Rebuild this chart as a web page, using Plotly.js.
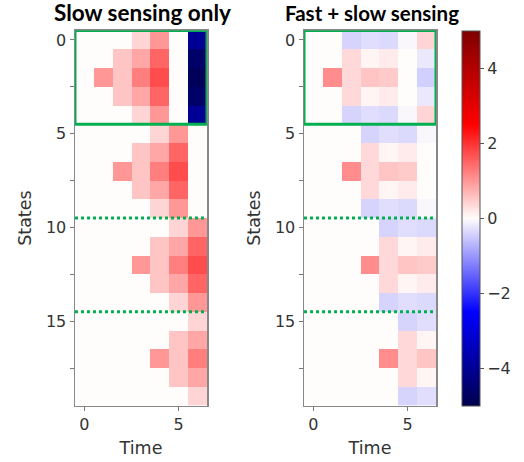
<!DOCTYPE html>
<html>
<head>
<meta charset="utf-8">
<script src="https://cdn.plot.ly/plotly-3.0.1.min.js"></script>
<style>html,body{margin:0;padding:0;background:#fff;}#chart{width:524px;height:462px;}</style>
</head>
<body>
<div id="chart"></div>
<script>
// Time steps (columns) and states (rows)
const times = [0, 1, 2, 3, 4, 5, 6];
const states = [0,1,2,3,4,5,6,7,8,9,10,11,12,13,14,15,16,17,18,19];

// Slow sensing only: state x time values
const slowOnly = [
  [0, 0, 0, 0.40, 1.00, 0, -4.0],
  [0, 0, 0.55, 0.85, 1.50, 0, -4.6],
  [0, 1.00, 0.55, 1.25, 1.75, 0, -4.8],
  [0, 0, 0.55, 0.85, 1.50, 0, -4.6],
  [0, 0, 0, 0.40, 1.00, 0, -4.0],
  [0, 0, 0, 0, 0.40, 1.00, 0],
  [0, 0, 0, 0.55, 0.85, 1.50, 0],
  [0, 0, 1.00, 0.55, 1.25, 1.75, 0],
  [0, 0, 0, 0.55, 0.85, 1.50, 0],
  [0, 0, 0, 0, 0.40, 1.00, 0],
  [0, 0, 0, 0, 0, 0.40, 1.00],
  [0, 0, 0, 0, 0.55, 0.85, 1.50],
  [0, 0, 0, 1.00, 0.55, 1.25, 1.75],
  [0, 0, 0, 0, 0.55, 0.85, 1.50],
  [0, 0, 0, 0, 0, 0.40, 1.00],
  [0, 0, 0, 0, 0, 0, 0.40],
  [0, 0, 0, 0, 0, 0.55, 0.85],
  [0, 0, 0, 0, 1.00, 0.55, 1.25],
  [0, 0, 0, 0, 0, 0.55, 0.85],
  [0, 0, 0, 0, 0, 0, 0.40]
];

// Fast + slow sensing: state x time values
const fastSlow = [
  [0, 0, -0.40, -0.30, -0.35, -0.05, 0.40],
  [0, 0, 0.35, 0.07, 0.17, 0, -0.20],
  [0, 1.10, 0.35, 0.55, 0.50, 0, -0.45],
  [0, 0, 0.35, 0.07, 0.17, 0, -0.20],
  [0, 0, -0.40, -0.30, -0.35, -0.05, 0.40],
  [0, 0, 0, -0.40, -0.30, -0.35, -0.05],
  [0, 0, 0, 0.35, 0.07, 0.17, 0],
  [0, 0, 1.10, 0.35, 0.55, 0.50, 0],
  [0, 0, 0, 0.35, 0.07, 0.17, 0],
  [0, 0, 0, -0.40, -0.30, -0.35, -0.05],
  [0, 0, 0, 0, -0.40, -0.30, -0.35],
  [0, 0, 0, 0, 0.35, 0.07, 0.17],
  [0, 0, 0, 1.10, 0.35, 0.55, 0.50],
  [0, 0, 0, 0, 0.35, 0.07, 0.17],
  [0, 0, 0, 0, -0.40, -0.30, -0.35],
  [0, 0, 0, 0, 0, -0.40, -0.30],
  [0, 0, 0, 0, 0, 0.35, 0.07],
  [0, 0, 0, 0, 1.10, 0.35, 0.55],
  [0, 0, 0, 0, 0, 0.35, 0.07],
  [0, 0, 0, 0, 0, -0.40, -0.30]
];

const panelTitles = ["Slow sensing only", "Fast + slow sensing"];
const colorTicks = [-4, -2, 0, 2, 4];
const xTicks = [0, 5];
const yTickVals = [0, 2.5, 5, 7.5, 10, 12.5, 15, 17.5];
const yTickText = ["0", "", "5", "", "10", "", "15", ""];
const boxRows = [-0.5, 4.5];
const dividers = [9.5, 14.5];

const seismic = [
  [0, 'rgb(0,0,77)'], [0.25, 'rgb(0,0,255)'], [0.5, 'rgb(255,252,252)'],
  [0.75, 'rgb(255,0,0)'], [1, 'rgb(128,0,0)']
];

const tickFont = {family: 'DejaVu Sans, sans-serif', size: 16, color: '#333'};
const titleFont = {family: 'DejaVu Sans, sans-serif', size: 17.5, color: '#333'};
const green = '#00B050';

const traces = [
  {type: 'heatmap', x: times, y: states, z: slowOnly, xaxis: 'x', yaxis: 'y',
   colorscale: seismic, zmin: -5, zmax: 5, showscale: false, zsmooth: false},
  {type: 'heatmap', x: times, y: states, z: fastSlow, xaxis: 'x2', yaxis: 'y2',
   colorscale: seismic, zmin: -5, zmax: 5, zsmooth: false,
   colorbar: {x: 462/524, xanchor: 'left', y: 0.528, yanchor: 'middle',
     len: 375/462, lenmode: 'fraction', thickness: 18, thicknessmode: 'pixels',
     outlinewidth: 1, outlinecolor: '#555', tickvals: colorTicks,
     ticks: 'outside', ticklen: 4, tickcolor: '#555', tickfont: tickFont, xpad: 0, ypad: 0}}
];

function xax(domain) {
  return {domain: domain, range: [-0.5, 6.5], tickvals: xTicks, ticks: 'outside',
    ticklen: 4, tickcolor: '#777', tickfont: tickFont, showgrid: false, zeroline: false,
    showline: true, mirror: true, linecolor: '#888', linewidth: 1.5,
    title: {text: 'Time', font: titleFont, standoff: 8}};
}
function yax(anchor) {
  return {domain: [0.1221, 0.9338], range: [19.5, -0.5], anchor: anchor,
    tickvals: yTickVals, ticktext: yTickText, ticks: 'outside', ticklen: 4,
    tickcolor: '#777', tickfont: tickFont, showgrid: false, zeroline: false,
    showline: true, mirror: true, linecolor: '#888', linewidth: 1.5,
    title: {text: 'States', font: titleFont, standoff: 10}};
}

const shapes = [];
[['x', 'y'], ['x2', 'y2']].forEach(([xr, yr]) => {
  shapes.push({type: 'rect', xref: xr, yref: yr, x0: -0.5, x1: 6.5, y0: boxRows[0], y1: boxRows[1],
    line: {color: green, width: 3}});
  dividers.forEach(d => shapes.push({type: 'line', xref: xr, yref: yr, x0: -0.5, x1: 6.5, y0: d, y1: d,
    line: {color: green, width: 3, dash: 'dot'}}));
});

const layout = {
  width: 524, height: 462, margin: {l: 0, r: 0, t: 0, b: 0},
  paper_bgcolor: '#fff', plot_bgcolor: '#fff', showlegend: false,
  xaxis: xax([75/524, 207/524]), yaxis: yax('x'),
  xaxis2: Object.assign(xax([304/524, 436/524]), {anchor: 'y2'}), yaxis2: yax('x2'),
  shapes: shapes,
  annotations: [
    {text: '<b>' + panelTitles[0] + '</b>', xref: 'paper', yref: 'paper', x: 142/524, y: 1 - 13/462,
     xanchor: 'center', yanchor: 'middle', showarrow: false,
     font: {family: 'Lato', size: 22.5, color: '#000'}},
    {text: '<b>' + panelTitles[1] + '</b>', xref: 'paper', yref: 'paper', x: 372/524, y: 1 - 13/462,
     xanchor: 'center', yanchor: 'middle', showarrow: false,
     font: {family: 'Lato', size: 20.5, color: '#000'}}
  ]
};
layout.xaxis.anchor = 'y';

Plotly.newPlot('chart', traces, layout, {displayModeBar: false, staticPlot: true});
</script>
</body>
</html>
